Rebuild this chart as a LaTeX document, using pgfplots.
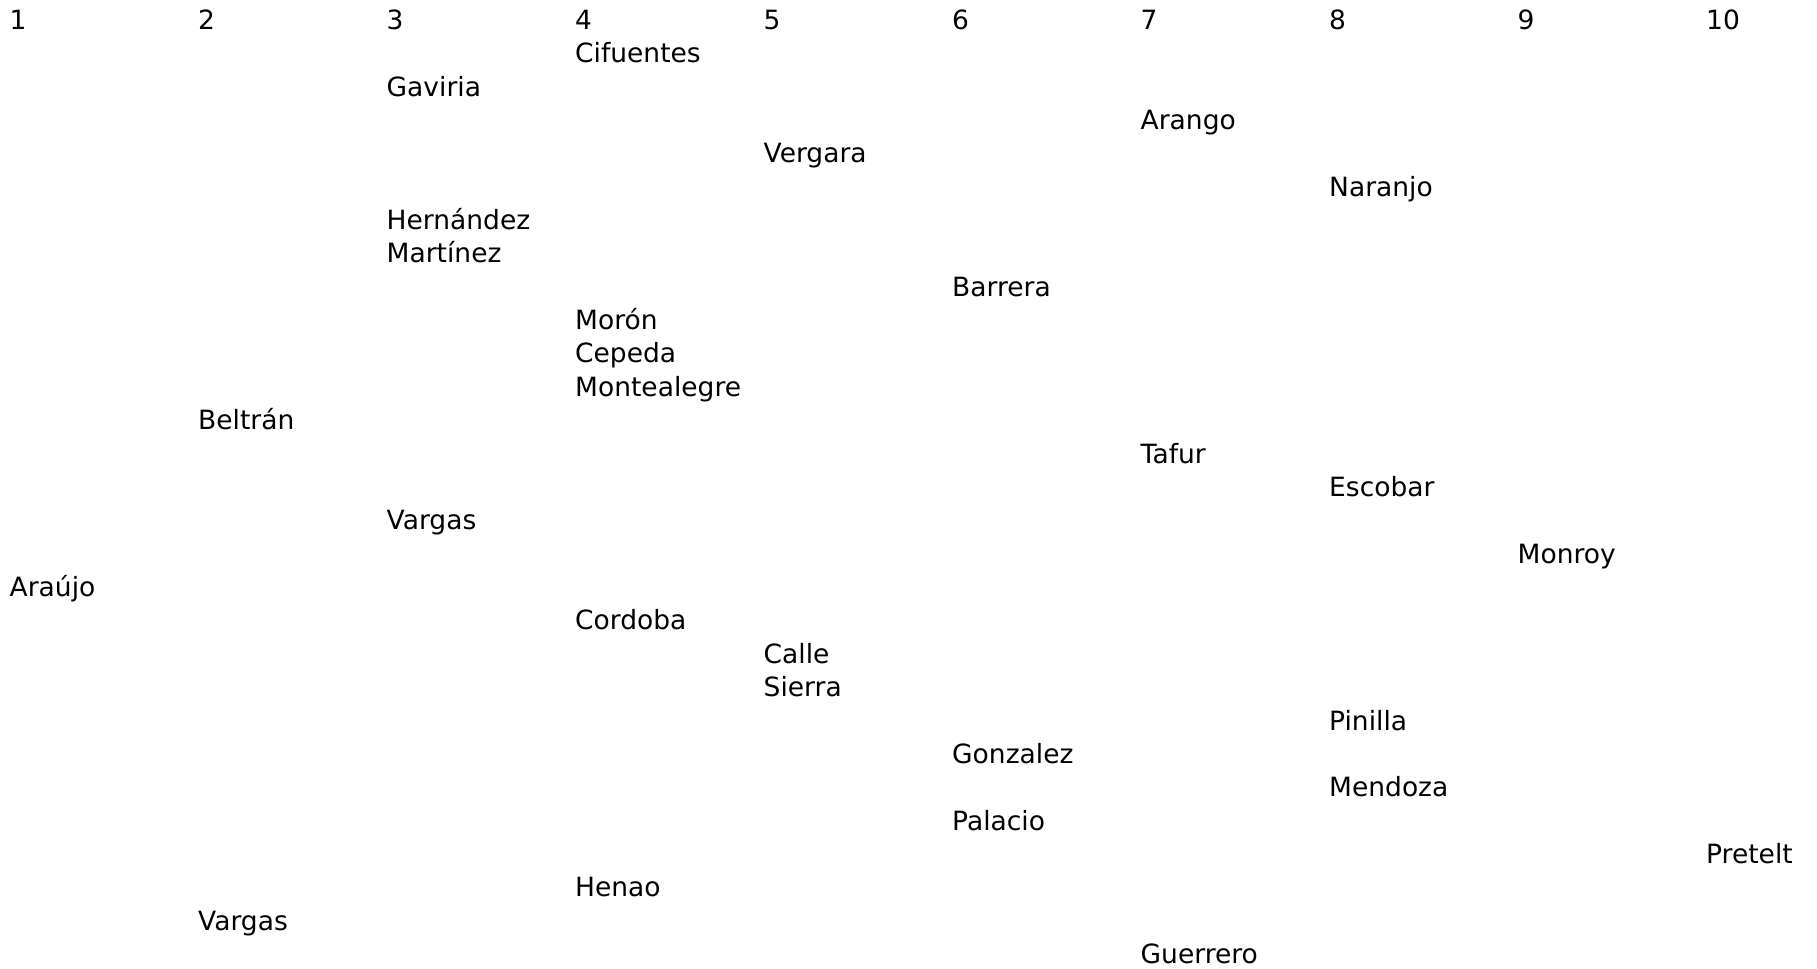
\documentclass[border=0pt]{standalone}
\usepackage{pgfplots}
\pgfplotsset{compat=1.18}
\usepackage{fontspec}
\setmainfont{DejaVu Sans}
\begin{document}
\begin{tikzpicture}
\begin{axis}[
  scale only axis, width=908.5pt, height=484pt,
  xmin=0.9507, xmax=10.590, ymin=-28.13, ymax=0.878,
  hide axis, clip=false,
  nodes near coords style={anchor=base west, inner sep=0pt, font=\fontsize{13.25pt}{15pt}\selectfont, text=black},
]
\coordinate (sw) at (rel axis cs:0,0);
\coordinate (ne) at (rel axis cs:1,1);
% column headers
\addplot[draw=none, mark=none, nodes near coords, point meta=explicit symbolic]
table[meta=label] {
x y label
1 0 1
2 0 2
3 0 3
4 0 4
5 0 5
6 0 6
7 0 7
8 0 8
9 0 9
10 0 10
};
% names
\addplot[draw=none, mark=none, nodes near coords, point meta=explicit symbolic]
table[meta=label] {
x y label
4 -1 Cifuentes
3 -2 Gaviria
7 -3 Arango
5 -4 Vergara
8 -5 Naranjo
3 -6 Hernández
3 -7 Martínez
6 -8 Barrera
4 -9 Morón
4 -10 Cepeda
4 -11 Montealegre
2 -12 Beltrán
7 -13 Tafur
8 -14 Escobar
3 -15 Vargas
9 -16 Monroy
1 -17 Araújo
4 -18 Cordoba
5 -19 Calle
5 -20 Sierra
8 -21 Pinilla
6 -22 Gonzalez
8 -23 Mendoza
6 -24 Palacio
10 -25 Pretelt
4 -26 Henao
2 -27 Vargas
7 -28 Guerrero
};
\end{axis}
\pgfresetboundingbox
\path (sw) rectangle (ne);
\end{tikzpicture}
\end{document}
